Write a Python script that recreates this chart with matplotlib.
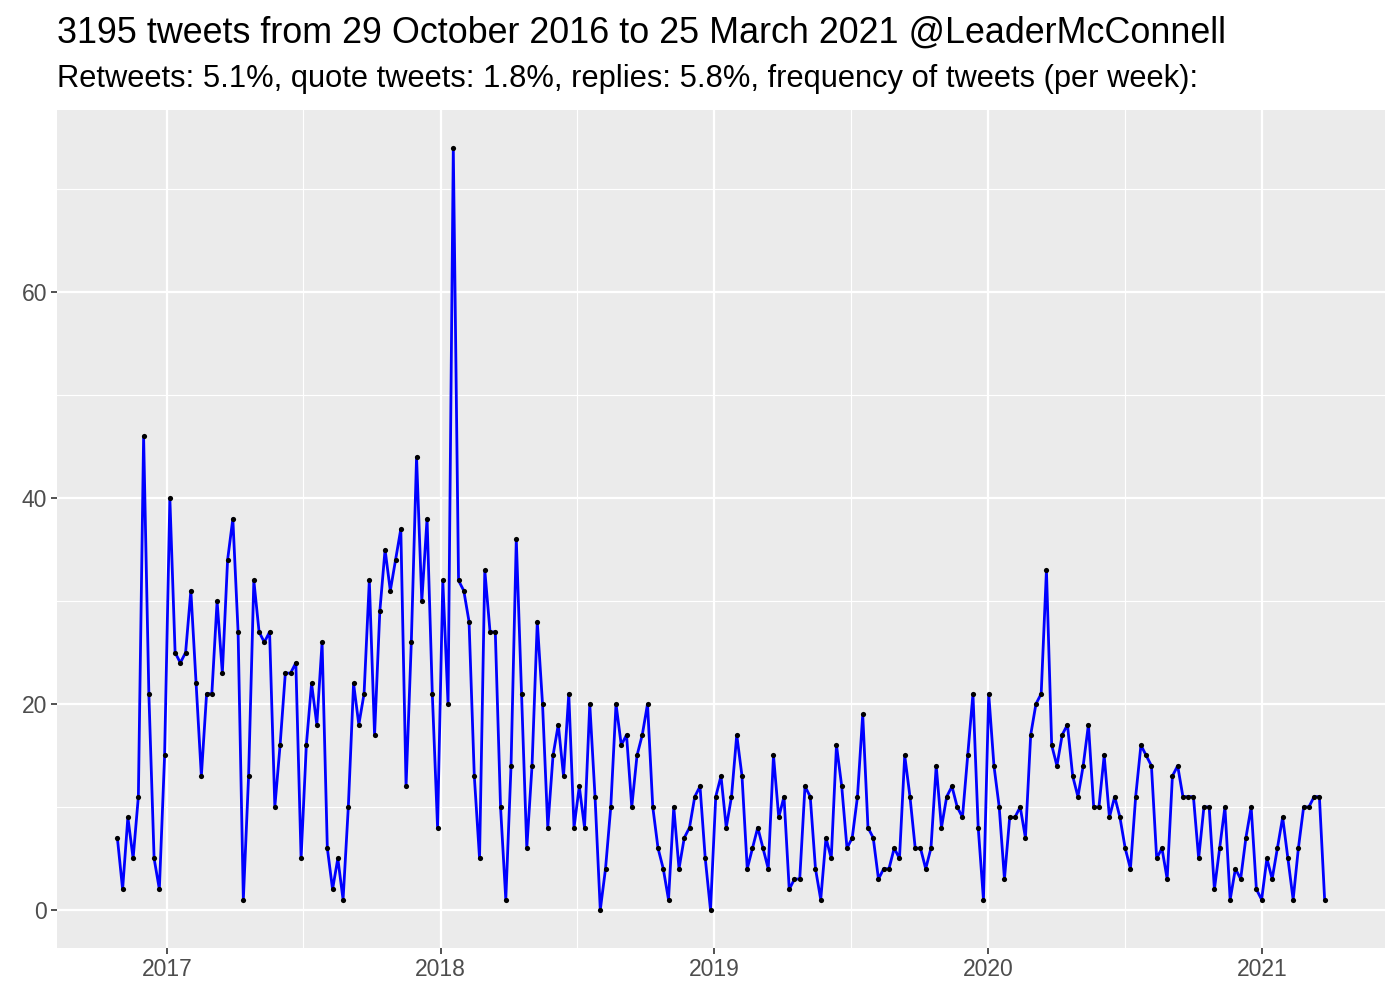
import pandas as pd
import matplotlib
matplotlib.use("Agg")
from matplotlib import pyplot as plt
import matplotlib.dates as mdates

plt.rcParams['font.family'] = ['Liberation Sans', 'DejaVu Sans']

# weekly tweet counts, last week ending 25 March 2021
tweets = [7, 2, 9, 5, 11, 46, 21, 5, 2, 15,
          40, 25, 24, 25, 31, 22, 13, 21, 21, 30,
          23, 34, 38, 27, 1, 13, 32, 27, 26, 27,
          10, 16, 23, 23, 24, 5, 16, 22, 18, 26,
          6, 2, 5, 1, 10, 22, 18, 21, 32, 17,
          29, 35, 31, 34, 37, 12, 26, 44, 30, 38,
          21, 8, 32, 20, 74, 32, 31, 28, 13, 5,
          33, 27, 27, 10, 1, 14, 36, 21, 6, 14,
          28, 20, 8, 15, 18, 13, 21, 8, 12, 8,
          20, 11, 0, 4, 10, 20, 16, 17, 10, 15,
          17, 20, 10, 6, 4, 1, 10, 4, 7, 8,
          11, 12, 5, 0, 11, 13, 8, 11, 17, 13,
          4, 6, 8, 6, 4, 15, 9, 11, 2, 3,
          3, 12, 11, 4, 1, 7, 5, 16, 12, 6,
          7, 11, 19, 8, 7, 3, 4, 4, 6, 5,
          15, 11, 6, 6, 4, 6, 14, 8, 11, 12,
          10, 9, 15, 21, 8, 1, 21, 14, 10, 3,
          9, 9, 10, 7, 17, 20, 21, 33, 16, 14,
          17, 18, 13, 11, 14, 18, 10, 10, 15, 9,
          11, 9, 6, 4, 11, 16, 15, 14, 5, 6,
          3, 13, 14, 11, 11, 11, 5, 10, 10, 2,
          6, 10, 1, 4, 3, 7, 10, 2, 1, 5,
          3, 6, 9, 5, 1, 6, 10, 10, 11, 11, 1]
dates = pd.date_range(end="2021-03-25", periods=len(tweets), freq="7D")

title = "3195 tweets from 29 October 2016 to 25 March 2021 @LeaderMcConnell"
subtitle = "Retweets: 5.1%, quote tweets: 1.8%, replies: 5.8%, frequency of tweets (per week):"

fig = plt.figure(figsize=(14, 10), dpi=100)
ax = fig.add_axes([57/1400, 52/1000, 1328/1400, 838/1000])
ax.set_facecolor("#EBEBEB")

ax.plot(dates, tweets, color="blue", lw=2.0, zorder=3)
ax.scatter(dates, tweets, s=14, color="black", zorder=4, linewidths=0)

ymax = max(tweets)
ax.set_ylim(-0.05*ymax, 1.05*ymax)
span = dates[-1] - dates[0]
ax.set_xlim(dates[0] - span*0.05, dates[-1] + span*0.05)

ax.set_yticks([0, 20, 40, 60])
ax.set_yticks([10, 30, 50, 70], minor=True)
ax.xaxis.set_major_locator(mdates.YearLocator())
ax.xaxis.set_major_formatter(mdates.DateFormatter("%Y"))
ax.xaxis.set_minor_locator(mdates.MonthLocator(bymonth=7, bymonthday=2))

ax.grid(which="major", color="white", lw=1.6)
ax.grid(which="minor", color="white", lw=0.8)
ax.set_axisbelow(True)
for s in ax.spines.values():
    s.set_visible(False)
ax.tick_params(which="major", length=4, width=1.2, color="#333333",
               labelsize=16.5, labelcolor="#4D4D4D", pad=3)
ax.tick_params(which="minor", length=0)

fig.text(57/1400, 1-43/1000, title, fontsize=25.8, va="baseline", ha="left")
fig.text(57/1400, 1-87/1000, subtitle, fontsize=22.2, va="baseline", ha="left")

fig.savefig("out.png", dpi=100)
